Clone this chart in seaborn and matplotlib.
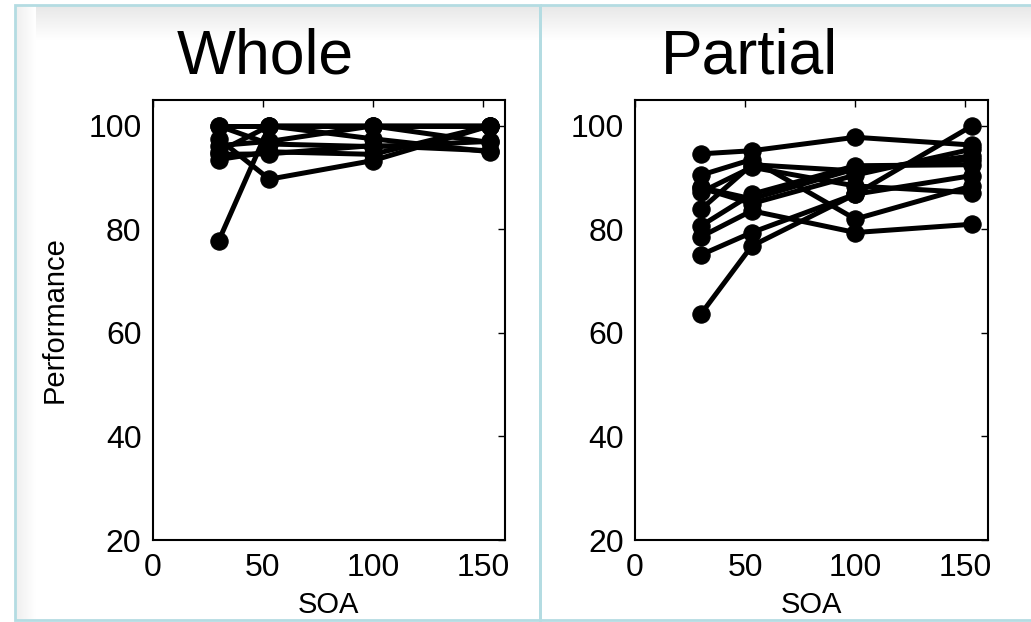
import numpy as np
import pandas as pd
import matplotlib
matplotlib.use("Agg")
import matplotlib.pyplot as plt
from matplotlib.patches import Rectangle
import seaborn as sns

# Stimulus onset asynchrony levels (ms)
soa = [30, 53, 100, 153]

# Per-subject performance (% correct), whole-object condition
whole_s1 = [77.8, 100.0, 100.0, 100.0]
whole_s2 = [97.5, 89.7, 93.3, 100.0]
whole_s3 = [100.0, 100.0, 100.0, 100.0]
whole_s4 = [100.0, 96.5, 96.0, 97.0]
whole_s5 = [95.0, 100.0, 97.5, 95.0]
whole_s6 = [93.5, 95.0, 94.5, 100.0]
whole_s7 = [96.2, 97.0, 100.0, 96.8]
whole_s8 = [94.5, 94.6, 96.2, 95.2]

# Per-subject performance (% correct), partial-object condition
partial_s1 = [94.6, 95.2, 97.8, 96.3]
partial_s2 = [90.5, 93.5, 82.0, 88.4]
partial_s3 = [88.1, 85.9, 91.7, 93.5]
partial_s4 = [87.2, 92.0, 88.4, 87.1]
partial_s5 = [83.9, 92.5, 91.3, 94.2]
partial_s6 = [80.7, 86.8, 92.3, 92.5]
partial_s7 = [78.6, 83.6, 79.4, 81.0]
partial_s8 = [75.1, 79.4, 86.8, 90.4]
partial_s9 = [63.7, 76.8, 86.8, 100.0]
partial_s10 = [88.0, 85.0, 90.5, 95.5]

whole = [whole_s1, whole_s2, whole_s3, whole_s4,
         whole_s5, whole_s6, whole_s7, whole_s8]
partial = [partial_s1, partial_s2, partial_s3, partial_s4, partial_s5,
           partial_s6, partial_s7, partial_s8, partial_s9, partial_s10]

panel_titles = ["Whole", "Partial"]
x_ticks = [0, 50, 100, 150]
y_ticks = [20, 40, 60, 80, 100]


def to_long(subjects):
    rows = []
    for i, vals in enumerate(subjects):
        for s, v in zip(soa, vals):
            rows.append({"subject": i, "SOA": s, "Performance": v})
    return pd.DataFrame(rows)


sns.set_theme(style="white")
plt.rcParams["font.family"] = ["Liberation Sans", "DejaVu Sans"]

W, H = 1031, 622
fig = plt.figure(figsize=(W / 100, H / 100), dpi=100)
fig.patch.set_facecolor("white")

# Slide-style frames behind the two panels
bg = fig.add_axes([0, 0, 1, 1], zorder=-10)
bg.set_xlim(0, W)
bg.set_ylim(H, 0)
bg.axis("off")
frame_col = "#b4dce2"
for (x0, x1) in [(15, 540), (540, W + 5)]:
    # soft shading under the top edge
    grad = np.linspace(0.91, 1.0, 40).reshape(-1, 1)
    bg.imshow(np.dstack([grad, grad, grad]), extent=(x0, x1, 40, 6),
              aspect="auto", interpolation="bilinear", zorder=0)
    bg.add_patch(Rectangle((x0, 5), x1 - x0, 615, fill=False,
                           edgecolor=frame_col, linewidth=2.0, zorder=1))
# soft shading along the left edge of the left frame
gradx = np.linspace(0.94, 1.0, 30).reshape(1, -1)
bg.imshow(np.dstack([gradx, gradx, gradx]), extent=(16, 36, 620, 6),
          aspect="auto", interpolation="bilinear", zorder=0)

ax_w, ax_h = 352.5 / W, 440 / H
bottom = (H - 540) / H
axes = [fig.add_axes([152.6 / W, bottom, ax_w, ax_h]),
        fig.add_axes([635 / W, bottom, ax_w, ax_h])]
title_x = [265, 749]

for ax, data, title, tx in zip(axes, [whole, partial], panel_titles, title_x):
    df = to_long(data)
    sns.lineplot(data=df, x="SOA", y="Performance", units="subject",
                 estimator=None, color="black", linewidth=3.6,
                 marker="o", markersize=12.5, markeredgecolor="black",
                 markerfacecolor="black", ax=ax, legend=False)
    ax.set_xlim(0, 160)
    ax.set_ylim(20, 105)
    ax.set_xticks(x_ticks)
    ax.set_yticks(y_ticks)
    ax.set_facecolor("white")
    ax.tick_params(axis="both", which="both", direction="in", length=5,
                   width=1.0, color="black", top=True, right=True,
                   labelsize=23, labelcolor="black")
    ax.tick_params(axis="y", pad=8)
    ax.tick_params(axis="x", pad=9)
    for sp in ax.spines.values():
        sp.set_visible(True)
        sp.set_color("black")
        sp.set_linewidth(1.5)
    ax.set_xlabel("SOA", fontsize=21, color="black", labelpad=6)
    ax.set_ylabel("")
    fig.text(tx / W, 1 - 57 / H, title, fontsize=45, color="black",
             ha="center", va="center")

axes[0].set_ylabel("Performance", fontsize=21, color="black", labelpad=14)

fig.savefig("out.png", dpi=100, facecolor="white")
